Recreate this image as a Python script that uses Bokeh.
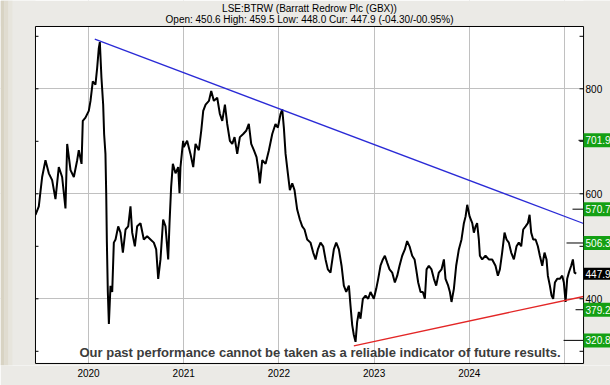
from bokeh.plotting import figure
from bokeh.models import FixedTicker, Range1d
from bokeh.core.properties import value
from bokeh.embed import file_html
from bokeh.resources import INLINE

# ---------------- data ----------------
dates = [
    2019.443, 2019.478, 2019.513, 2019.548, 2019.583, 2019.618, 2019.653, 2019.688, 2019.723, 2019.758,
    2019.776, 2019.811, 2019.846, 2019.881, 2019.898, 2019.927, 2019.940, 2019.968, 2020.003, 2020.021,
    2020.045, 2020.073, 2020.091, 2020.108, 2020.119, 2020.136, 2020.154, 2020.164, 2020.178, 2020.186,
    2020.193, 2020.203, 2020.214, 2020.231, 2020.249, 2020.266, 2020.284, 2020.312, 2020.336, 2020.361,
    2020.389, 2020.417, 2020.441, 2020.459, 2020.487, 2020.511, 2020.546, 2020.581, 2020.616, 2020.651,
    2020.686, 2020.711, 2020.732, 2020.756, 2020.784, 2020.809, 2020.837, 2020.851, 2020.868, 2020.886,
    2020.914, 2020.942, 2020.956, 2020.966, 2020.980, 2020.994, 2021.001, 2021.036, 2021.071, 2021.100,
    2021.124, 2021.159, 2021.184, 2021.205, 2021.230, 2021.265, 2021.289, 2021.317, 2021.352, 2021.380,
    2021.405, 2021.433, 2021.457, 2021.485, 2021.510, 2021.534, 2021.562, 2021.590, 2021.625, 2021.656,
    2021.684, 2021.709, 2021.737, 2021.765, 2021.790, 2021.800, 2021.825, 2021.860, 2021.895, 2021.930,
    2021.964, 2021.989, 2022.017, 2022.035, 2022.052, 2022.070, 2022.094, 2022.115, 2022.140, 2022.164,
    2022.192, 2022.220, 2022.245, 2022.269, 2022.297, 2022.332, 2022.360, 2022.385, 2022.409, 2022.437,
    2022.465, 2022.490, 2022.514, 2022.542, 2022.552, 2022.577, 2022.602, 2022.630, 2022.658, 2022.682,
    2022.707, 2022.735, 2022.752, 2022.770, 2022.787, 2022.805, 2022.822, 2022.840, 2022.857, 2022.882,
    2022.910, 2022.938, 2022.962, 2022.997, 2023.022, 2023.043, 2023.067, 2023.092, 2023.113, 2023.137,
    2023.162, 2023.190, 2023.218, 2023.243, 2023.267, 2023.295, 2023.323, 2023.347, 2023.372, 2023.400,
    2023.425, 2023.442, 2023.463, 2023.488, 2023.512, 2023.533, 2023.551, 2023.575, 2023.603, 2023.628,
    2023.652, 2023.680, 2023.708, 2023.733, 2023.750, 2023.778, 2023.796, 2023.813, 2023.838, 2023.862,
    2023.890, 2023.918, 2023.943, 2023.961, 2023.978, 2024.003, 2024.031, 2024.048, 2024.066, 2024.082,
    2024.100, 2024.111, 2024.135, 2024.170, 2024.205, 2024.240, 2024.275, 2024.300, 2024.321, 2024.345,
    2024.370, 2024.391, 2024.415, 2024.440, 2024.468, 2024.496, 2024.520, 2024.545, 2024.566, 2024.591,
    2024.615, 2024.633, 2024.650, 2024.671, 2024.696, 2024.720, 2024.741, 2024.766, 2024.790, 2024.811,
    2024.825, 2024.846, 2024.864, 2024.881, 2024.899, 2024.923, 2024.951, 2024.976, 2024.993, 2025.011,
    2025.028, 2025.046, 2025.070, 2025.088, 2025.105, 2025.123,
]
prices = [
    560, 576, 632, 664, 639, 626, 590, 651, 632, 572,
    695, 645, 632, 664, 683, 657, 739, 745, 758, 777,
    814, 808, 840, 877, 889, 821, 770, 714, 676, 601,
    507, 413, 352, 425, 413, 507, 513, 538, 526, 488,
    532, 538, 576, 526, 500, 538, 544, 513, 519, 513,
    507, 494, 438, 475, 551, 538, 475, 544, 613, 657,
    639, 651, 601, 651, 676, 701, 689, 701, 676, 651,
    695, 683, 720, 758, 770, 777, 796, 777, 783, 752,
    739, 770, 733, 701, 695, 708, 676, 708, 714, 720,
    733, 695, 683, 670, 639, 620, 664, 657, 683, 714,
    733, 726, 752, 761, 726, 676, 639, 607, 620, 607,
    570, 551, 538, 532, 513, 507, 488, 475, 494, 507,
    500, 475, 456, 450, 463, 494, 507, 494, 463, 425,
    413, 425, 387, 350, 331, 318, 356, 375, 362, 400,
    406, 400, 413, 400, 419, 438, 463, 475, 482, 469,
    456, 450, 431, 444, 463, 482, 494, 510, 500, 482,
    475, 456, 431, 413, 413, 400, 456, 463, 456, 438,
    425, 450, 456, 475, 438, 425, 413, 394, 419, 463,
    494, 513, 544, 557, 579, 557, 544, 526, 538, 544,
    513, 482, 475, 482, 475, 475, 463, 444, 456, 488,
    526, 513, 507, 488, 475, 500, 507, 500, 532, 538,
    544, 560, 526, 513, 513, 500, 482, 463, 488, 475,
    444, 425, 406, 400, 431, 438, 438, 444, 431, 394,
    438, 450, 463, 475, 450, 448,
]
resistance_x = [2020.066, 2025.2]
resistance_y = [894.5, 543.4]
support_x = [2022.787, 2025.2]
support_y = [310.5, 404.4]
target_levels = [701.9, 570.7, 506.3, 379.2, 320.8]
target_labels = ["701.9", "570.7", "506.3", "379.2", "320.8"]
target_line_start = [2025.147, 2025.084, 2025.021, 2025.116, 2024.990]
current_price = 447.9
current_label = "447.9"
year_ticks = [2020, 2021, 2022, 2023, 2024]
grid_years = [2020, 2021, 2022, 2023, 2024, 2025]
price_ticks = [400, 600, 800]
price_tick_labels = ["400", "600", "800"]
all_price_ticks = [300, 400, 500, 600, 700, 800, 900]
title_line1 = "LSE:BTRW (Barratt Redrow Plc (GBX))"
title_line2 = "Open: 450.6 High: 459.5 Low: 448.0 Cur: 447.9 (-04.30/-00.95%)"
disclaimer = "Our past performance cannot be taken as a reliable indicator of future results."

# ---------------- geometry (data extents of chart box and canvas) ----------------
XMIN, XMAX = 2019.0756, 2025.483      # whole canvas width
YMIN, YMAX = 272.95, 968.2            # frame (canvas top to just under chart box)
X0, XR = 2019.443, 2025.2             # chart box left / right
YB, YT = 276.8, 918.7                 # chart box bottom / top
PXX = 1 / 95.2                        # one pixel in years
PXY = 1 / 0.525                       # one pixel in price units
XM = (X0 + XR) / 2

PANEL = "#ebeae6"
FONT = value("Liberation Sans")

p = figure(width=610, height=385, x_range=Range1d(XMIN, XMAX), y_range=Range1d(YMIN, YMAX),
           y_axis_location=None, output_backend="svg", toolbar_location=None,
           min_border_left=0, min_border_right=0, min_border_top=0, min_border_bottom=20,
           background_fill_color="white", border_fill_color=PANEL,
           outline_line_color=None)

# x axis (years)
xax = p.xaxis[0]
xax.ticker = FixedTicker(ticks=year_ticks)
xax.major_label_overrides = {y: str(y) for y in year_ticks}
xax.major_tick_in = 0
xax.major_tick_out = 0
xax.minor_tick_in = 0
xax.minor_tick_out = 0
xax.axis_line_color = None
xax.major_label_standoff = 3
xax.major_label_text_font = "Liberation Sans"
xax.major_label_text_font_size = "10px"
xax.major_label_text_color = "black"

# grids
p.xgrid.ticker = FixedTicker(ticks=grid_years)
p.xgrid.grid_line_color = "#c0c0c0"
p.ygrid.ticker = FixedTicker(ticks=price_ticks)
p.ygrid.grid_line_color = "#c0c0c0"

# price series
p.line(dates, prices, line_color="black", line_width=2)

# trend lines
p.line(resistance_x, resistance_y, line_color="#2a2ad6", line_width=1.3)
p.line(support_x, support_y, line_color="#e32626", line_width=1.3)

# panel around chart box (covers grid outside the box)
p.quad(left=[XMIN, XMIN, XR, XMIN], right=[XMAX, X0, XMAX, XMAX],
       bottom=[YT, YMIN, YMIN, YMIN], top=[YMAX, YMAX, YMAX, YB],
       fill_color=PANEL, line_color=None)
# beige shading on the far left edge
p.quad(left=[XMIN, XMIN + 4 * PXX, XMIN + 8 * PXX], right=[XMIN + 4 * PXX, XMIN + 8 * PXX, XMIN + 12 * PXX],
       bottom=[YMIN] * 3, top=[YMAX] * 3,
       fill_color=["#d8d3c3", "#e0dcd0", "#e7e5dd"], line_color=None)

# chart box border
p.quad(left=[X0], right=[XR], bottom=[YB], top=[YT], fill_color=None, line_color="black", line_width=1)

# price ticks (inside on both sides)
p.segment(x0=[XR - 4 * PXX] * len(all_price_ticks), y0=all_price_ticks, x1=[XR] * len(all_price_ticks),
          y1=all_price_ticks, line_color="black", line_width=1)
p.segment(x0=[X0] * len(all_price_ticks), y0=all_price_ticks, x1=[X0 + 3 * PXX] * len(all_price_ticks),
          y1=all_price_ticks, line_color="black", line_width=1)
p.text(x=[XR] * len(price_ticks), y=price_ticks, text=price_tick_labels, x_offset=2,
       text_baseline="middle", text_align="left", text_font=FONT, text_font_size="10px",
       text_color="black")

# target lines
p.segment(x0=target_line_start, y0=target_levels, x1=[XR] * len(target_levels), y1=target_levels,
          line_color="black", line_width=1)

# target boxes
p.quad(left=[XR] * len(target_levels), right=[XMAX] * len(target_levels),
       bottom=[v - 7 * PXY for v in target_levels], top=[v + 7 * PXY for v in target_levels],
       fill_color="#14a014", line_color=None)
p.text(x=[XR] * len(target_levels), y=target_levels, text=target_labels, x_offset=2,
       text_baseline="middle", text_align="left", text_font=FONT, text_font_size="10px",
       text_color="white")
p.quad(left=[XR], right=[XMAX], bottom=[current_price - 6 * PXY], top=[current_price + 6 * PXY],
       fill_color="black", line_color=None)
p.text(x=[XR], y=[current_price], text=[current_label], x_offset=2,
       text_baseline="middle", text_align="left", text_font=FONT, text_font_size="10px",
       text_color="white")

# titles
p.text(x=[XM, XM], y=[YMAX - 8 * PXY, YMAX - 19.5 * PXY], text=[title_line1, title_line2],
       text_align="center", text_baseline="middle", text_font=FONT, text_font_size="10px",
       text_color="black")

# disclaimer
p.text(x=[2022.432], y=[297.7], text=[disclaimer], text_align="center", text_baseline="middle",
       text_font=FONT, text_font_style="bold", text_font_size="13px", text_color="#3c3c3c")

open("out.html", "w").write(file_html(p, INLINE))
